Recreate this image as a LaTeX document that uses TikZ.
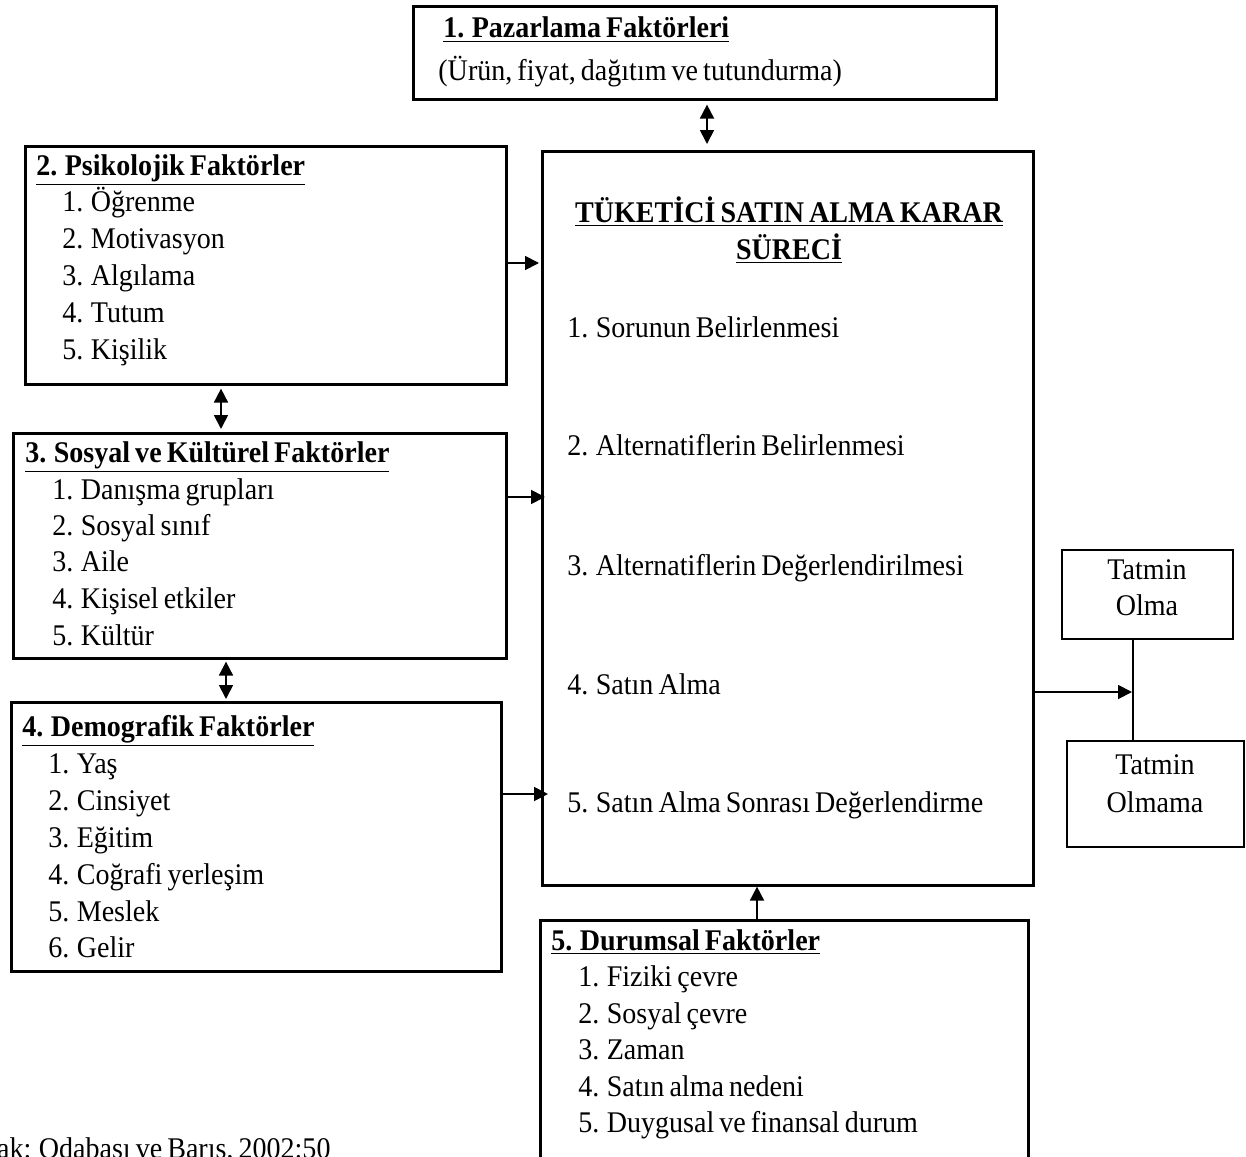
\documentclass[tikz,border=0pt]{standalone}
\usepackage{fontspec}
\setmainfont{Liberation Serif}[FakeStretch=0.935, WordSpace=0.72]
\usetikzlibrary{arrows.meta}
\tikzset{
  box/.style={draw, line width=1.3pt, inner sep=0pt, anchor=north west},
  sbox/.style={draw, line width=1.1pt, inner sep=0pt, anchor=north west},
  txt/.style={anchor=base west, inner sep=0pt, font=\fontsize{15}{18}\selectfont},
  ctxt/.style={anchor=base, inner sep=0pt, font=\fontsize{15}{18}\selectfont},
  conn/.style={line width=0.9pt, -{Triangle[length=7pt,width=7pt]}},
  dconn/.style={line width=0.9pt, {Triangle[length=7pt,width=7pt]}-{Triangle[length=7pt,width=7pt]}},
  plain/.style={line width=0.9pt}
}
\newcommand{\ttl}[1]{\textbf{\underline{#1}}}
\begin{document}
\begin{tikzpicture}[x=0.5pt,y=-0.5pt]
\useasboundingbox (0,0) rectangle (1246,1156);
\clip (0,0) rectangle (1246,1156);
% boxes
\node[box, minimum width=291.5pt, minimum height=46.5pt] (pazar) at (412,5) {};
\node[box, minimum width=245.5pt, minimum height=367pt] (main) at (541,150) {};
\node[box, minimum width=240.5pt, minimum height=119pt] (psi) at (24,145) {};
\node[box, minimum width=246.5pt, minimum height=112.5pt] (sos) at (12,432) {};
\node[box, minimum width=245pt, minimum height=134.5pt] (dem) at (10,701) {};
\node[box, minimum width=244pt, minimum height=135pt] (dur) at (539,919) {};
\node[sbox, minimum width=85.5pt, minimum height=44.5pt] (olma) at (1061,549) {};
\node[sbox, minimum width=88.5pt, minimum height=53pt] (olmama) at (1066,740) {};
% texts: pazarlama
\node[txt] (p0) at (443,38) {\ttl{1. Pazarlama Faktörleri}};
\node[txt] (p1) at (438,81) {(Ürün, fiyat, dağıtım ve tutundurma)};
% main
\node[ctxt] (m0) at (789,222) {\ttl{TÜKETİCİ SATIN ALMA KARAR}};
\node[ctxt] (m00) at (789,259) {\ttl{SÜRECİ}};
\node[txt] (m1) at (567,337) {1. Sorunun Belirlenmesi};
\node[txt] (m2) at (567,455) {2. Alternatiflerin Belirlenmesi};
\node[txt] (m3) at (567,575) {3. Alternatiflerin Değerlendirilmesi};
\node[txt] (m4) at (567,694) {4. Satın Alma};
\node[txt] (m5) at (567,812) {5. Satın Alma Sonrası Değerlendirme};
% psikolojik
\node[txt] (a0) at (36,175) {\ttl{2. Psikolojik Faktörler}};
\node[txt] (a1) at (62,211) {1. Öğrenme};
\node[txt] (a2) at (62,248) {2. Motivasyon};
\node[txt] (a3) at (62,285) {3. Algılama};
\node[txt] (a4) at (62,322) {4. Tutum};
\node[txt] (a5) at (62,359) {5. Kişilik};
% sosyal
\node[txt] (b0) at (25,462) {\ttl{3. Sosyal ve Kültürel Faktörler}};
\node[txt] (b1) at (52,499) {1. Danışma grupları};
\node[txt] (b2) at (52,535) {2. Sosyal sınıf};
\node[txt] (b3) at (52,571) {3. Aile};
\node[txt] (b4) at (52,608) {4. Kişisel etkiler};
\node[txt] (b5) at (52,645) {5. Kültür};
% demografik
\node[txt] (c0) at (22,736) {\ttl{4. Demografik Faktörler}};
\node[txt] (c1) at (48,773) {1. Yaş};
\node[txt] (c2) at (48,810) {2. Cinsiyet};
\node[txt] (c3) at (48,847) {3. Eğitim};
\node[txt] (c4) at (48,884) {4. Coğrafi yerleşim};
\node[txt] (c5) at (48,921) {5. Meslek};
\node[txt] (c6) at (48,957) {6. Gelir};
% durumsal
\node[txt] (d0) at (551,950) {\ttl{5. Durumsal Faktörler}};
\node[txt] (d1) at (578,986) {1. Fiziki çevre};
\node[txt] (d2) at (578,1023) {2. Sosyal çevre};
\node[txt] (d3) at (578,1059) {3. Zaman};
\node[txt] (d4) at (578,1096) {4. Satın alma nedeni};
\node[txt] (d5) at (578,1132) {5. Duygusal ve finansal durum};
% tatmin
\node[ctxt] (t1) at (1147,579) {Tatmin};
\node[ctxt] (t2) at (1147,615) {Olma};
\node[ctxt] (t3) at (1155,774) {Tatmin};
\node[ctxt] (t4) at (1155,812) {Olmama};
% source (cut off at the page edge, as in the reference)
\node[txt] (src) at (-64,1158) {Kaynak: Odabaşı ve Barış, 2002:50};
% column/row coordinates
\coordinate (x1) at (707,0);
\coordinate (x2) at (221,0);
\coordinate (x3) at (226,0);
\coordinate (x4) at (757,0);
\coordinate (x5) at (1133,0);
\coordinate (y1) at (0,263);
\coordinate (y2) at (0,497);
\coordinate (y3) at (0,794);
\coordinate (y4) at (0,692);
\coordinate (e1) at (539,263);
\coordinate (e2) at (545,497);
\coordinate (e3) at (548,794);
\coordinate (e4) at (1132,692);
% connectors
\draw[dconn, shorten <=2pt, shorten >=3pt] (pazar.south -| x1) -- (main.north -| x1);
\draw[conn] (psi.east |- y1) -- (e1);
\draw[dconn, shorten <=1.5pt, shorten >=1.5pt] (psi.south -| x2) -- (sos.north -| x2);
\draw[conn] (sos.east |- y2) -- (e2);
\draw[dconn, shorten <=1pt, shorten >=1pt] (sos.south -| x3) -- (dem.north -| x3);
\draw[conn] (dem.east |- y3) -- (e3);
\draw[conn] (dur.north -| x4) -- (main.south -| x4);
\draw[conn] (main.east |- y4) -- (e4);
\draw[plain] (olma.south -| x5) -- (olmama.north -| x5);
\end{tikzpicture}
\end{document}
